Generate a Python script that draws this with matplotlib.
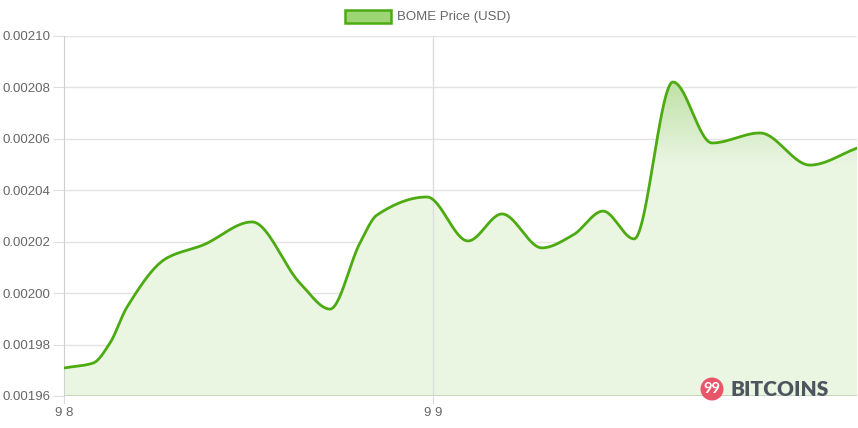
import numpy as np
import matplotlib
matplotlib.use("Agg")
import matplotlib.pyplot as plt
from matplotlib.patches import Rectangle, Circle
from matplotlib.transforms import IdentityTransform

# BOME price, hours since 9/8 00:00
hours = [0.0, 1.89, 2.99, 4.10, 6.70, 9.04, 12.23, 15.35, 17.30, 19.25, 20.36,
         23.61, 26.28, 28.49, 31.09, 33.11, 35.06, 37.08, 39.61, 42.15, 45.27,
         48.52, 51.58]
price = [0.0019709, 0.0019728, 0.0019806, 0.0019946, 0.0020137, 0.0020187,
         0.0020277, 0.0020039, 0.0019938, 0.0020195, 0.0020304, 0.0020374,
         0.0020203, 0.0020308, 0.0020176, 0.0020226, 0.0020319, 0.0020211,
         0.0020821, 0.0020584, 0.0020623, 0.0020498, 0.0020564]
tick_hours = [0, 24]
tick_labels = ["9 8", "9 9"]
y_ticks = [0.00196, 0.00198, 0.00200, 0.00202, 0.00204, 0.00206, 0.00208, 0.00210]

LINE = "#4dab12"
GRID = "#e3e3e3"
TEXT = "#666666"


def monotone(x, y, n=1200):
    # monotone cubic (like chart.js cubicInterpolationMode='monotone')
    x = np.asarray(x, float)
    y = np.asarray(y, float)
    h = np.diff(x)
    d = np.diff(y) / h
    m = np.zeros_like(y)
    m[0], m[-1] = d[0], d[-1]
    for i in range(1, len(x) - 1):
        if d[i - 1] * d[i] <= 0:
            m[i] = 0.0
        else:
            w1 = 2 * h[i] + h[i - 1]
            w2 = h[i] + 2 * h[i - 1]
            m[i] = (w1 + w2) / (w1 / d[i - 1] + w2 / d[i])
    xs = np.linspace(x[0], x[-1], n)
    idx = np.clip(np.searchsorted(x, xs) - 1, 0, len(x) - 2)
    t = (xs - x[idx]) / h[idx]
    h00 = 2 * t**3 - 3 * t**2 + 1
    h10 = t**3 - 2 * t**2 + t
    h01 = -2 * t**3 + 3 * t**2
    h11 = t**3 - t**2
    ys = h00 * y[idx] + h10 * h[idx] * m[idx] + h01 * y[idx + 1] + h11 * h[idx] * m[idx + 1]
    return xs, ys


plt.rcParams["font.family"] = ["Liberation Sans", "DejaVu Sans"]

fig = plt.figure(figsize=(8.58, 4.28), dpi=100)
ax = fig.add_axes([64 / 858, 32 / 428, 793 / 858, 360 / 428])

xs, ys = monotone(hours, price)
ymin, ymax = 0.00196, 0.00210
ax.set_xlim(0, 51.58)
ax.set_ylim(ymin, ymax)

# gradient fill under the curve
fill = ax.fill_between(xs, ys, ymin, color="none", lw=0)
grad_y = np.linspace(ymax, ymin, 300)
top_c = np.array([0.76, 0.89, 0.67])
low_c = np.array([0.918, 0.961, 0.890])
frac = np.clip((grad_y - 0.00205) / (0.00208 - 0.00205), 0, 1)[:, None]
img = low_c + (top_c - low_c) * frac
img = np.repeat(img[:, None, :], 2, axis=1)
im = ax.imshow(img, extent=[0, 51.58, ymin, ymax], aspect="auto", zorder=1,
               origin="upper")
im.set_clip_path(fill.get_paths()[0], transform=ax.transData)

ax.plot(xs, ys, color=LINE, lw=2, zorder=3, solid_capstyle="round")

# grid and axes
for v in y_ticks:
    ax.axhline(v, color=GRID, lw=1, zorder=0.5)
ax.axvline(24, color="#dddddd", lw=1, zorder=2)
ax.axhline(ymin, color="#bfcfb5", lw=1.2, zorder=2)
for s in ["top", "right", "bottom"]:
    ax.spines[s].set_visible(False)
ax.spines["left"].set_color("#d0d0d0")

ax.set_yticks(y_ticks)
ax.set_yticklabels([f"{v:.5f}" for v in y_ticks])
ax.set_xticks(tick_hours)
ax.set_xticklabels(tick_labels)
ax.tick_params(axis="y", length=8, color="#dddddd", labelcolor=TEXT, labelsize=9.5, pad=2)
ax.tick_params(axis="x", length=6, color="#dddddd", labelcolor=TEXT, labelsize=9.5, pad=2)

# legend
fig.patches.append(Rectangle((345 / 858, 1 - 23 / 428), 46 / 858, 13 / 428,
                             transform=fig.transFigure, facecolor="#9dd574",
                             edgecolor=LINE, lw=1.8))
fig.text(397 / 858, 1 - 17 / 428, "BOME Price (USD)", fontsize=9.5, color=TEXT,
         va="center", ha="left")

# watermark
logo = Circle((712, 428 - 389), 11.5, transform=IdentityTransform(),
              facecolor="#e8566a", edgecolor="none", zorder=5)
fig.add_artist(logo)
fig.text(712 / 858, 1 - 389 / 428, "99", fontsize=10.5, color="white", weight="bold",
         ha="center", va="center", zorder=6, family=["Lato", "DejaVu Sans"])
fig.text(730 / 858, 1 - 389 / 428, "BITCOINS", fontsize=15, color="#4d5660",
         weight="heavy", ha="left", va="center", zorder=6, family=["Lato", "DejaVu Sans"])

fig.savefig("out.png", dpi=100)
